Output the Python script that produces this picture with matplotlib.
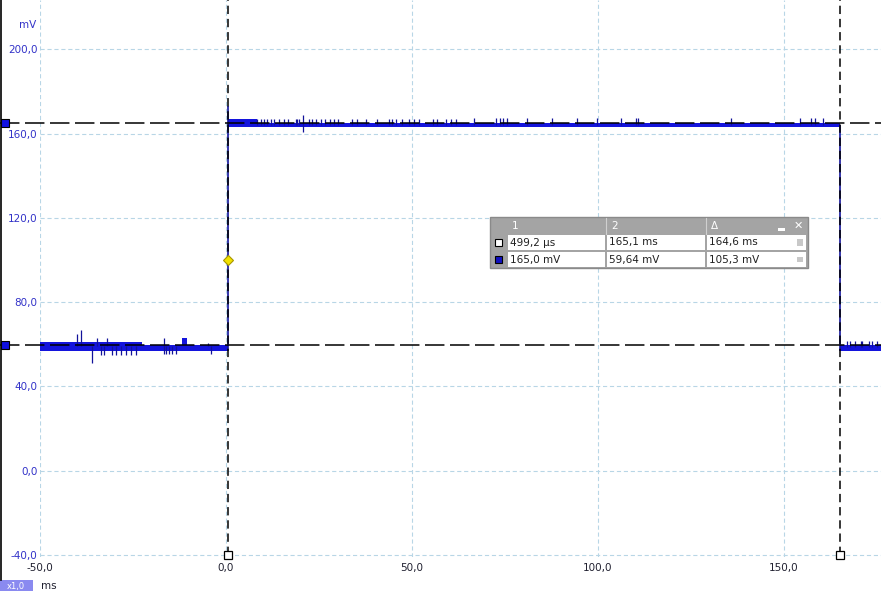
import matplotlib.pyplot as plt
import matplotlib.transforms as mtransforms
from matplotlib.patches import Rectangle

plt.rcParams['font.family'] = 'DejaVu Sans'
plt.rcParams['lines.scale_dashes'] = False

# trace envelope as steps (ms, mV): band between lo and hi on each segment
band_t = [-50.0, -22.5, -11.8, -10.4, 0.5, 8.4, 165.1, 176.1]
band_lo = [57.0, 57.0, 57.0, 57.0, 163.0, 163.0, 57.0]
band_hi = [61.2, 59.7, 63.0, 59.7, 166.8, 164.9, 59.7]

# edges of the pulse
edge_t = [0.5, 165.1]
edge_lo = [57.0, 57.0]
edge_hi = [173.1, 164.0]

# glitches on the low level before the pulse
low_up_t = [-40.0, -39.0, -34.8, -31.9, -16.7, -4.8]
low_up_top = [64.9, 66.8, 63.0, 63.0, 63.0, 60.8]
low_dn_t = [-36.0, -33.7, -32.8, -30.7, -29.7, -28.3, -27.0, -25.6, -24.3,
            -16.7, -16.2, -15.3, -14.4, -13.5, -4.1]
low_dn_bot = [51.3, 54.9, 54.9, 54.9, 54.9, 54.9, 54.9, 54.9, 54.9,
              55.2, 55.2, 55.2, 55.2, 55.2, 55.2]

# glitches on the high level
high_up_t = [8.4, 9.3, 10.2, 11.1, 12.0, 12.9, 14.2, 15.6, 16.7, 18.7, 19.2,
             19.6, 20.8, 22.3, 23.2, 24.3, 25.5, 26.6, 27.9, 29.0, 30.2, 34.0,
             35.3, 37.6, 40.5, 43.8, 44.7, 45.6, 47.4, 49.2, 50.5, 51.9, 55.7,
             56.8, 59.2, 60.6, 61.9, 66.7, 72.5, 73.7, 74.5, 75.6, 81.0, 87.7,
             94.4, 99.8, 106.3, 110.3, 110.8, 135.8, 154.2, 157.3, 158.3, 160.6]
high_up_top = [166.8] * 12 + [168.8] + [166.8] * 24 + [167.3] * 17
high_dn_t = [20.8]
high_dn_bot = [160.9]

# glitches after the pulse
tail_up_t = [167.0, 167.9, 169.0, 170.6, 171.1, 172.8, 173.7, 175.1]
tail_up_top = [61.5, 61.5, 61.5, 61.5, 61.5, 61.5, 61.5, 61.5]

# cursors and trigger
cursor_t = [0.4992, 165.1]
cursor_v = [165.0, 59.64]
trig_t = 0.5
trig_v = 100.0

x_ticks = [-50, 0, 50, 100, 150]
x_labels = ['-50,0', '0,0', '50,0', '100,0', '150,0']
y_ticks = [-40, 0, 40, 80, 120, 160, 200]
y_labels = ['-40,0', '0,0', '40,0', '80,0', '120,0', '160,0', '200,0']

tbl_head = ['1', '2', 'Δ']
tbl_time = ['499,2 μs', '165,1 ms', '164,6 ms']
tbl_volt = ['165,0 mV', '59,64 mV', '105,3 mV']

W, H = 881, 591
fig = plt.figure(figsize=(W / 100, H / 100), dpi=100)


def fx(px):
    return px / W


def fy(py):
    return 1 - py / H


ax = fig.add_axes([fx(40), fy(557), fx(881) - fx(40), fy(0) - fy(557)])
ax.set_xlim(-50, 176.1)
ax.set_ylim(-41, 223.4)
for s in ax.spines.values():
    s.set_visible(False)
ax.grid(True, color='#b8d6e6', lw=0.8, linestyle=(0, (3, 2)))
ax.set_axisbelow(True)
ax.set_xticks(x_ticks, x_labels)
ax.set_yticks(y_ticks, y_labels)
ax.tick_params(axis='both', length=0, labelsize=7.5)
ax.tick_params(axis='y', pad=1.8, labelcolor='#3232c8')
ax.tick_params(axis='x', pad=4.5, labelcolor='#202030')

blue = '#1414dc'
dark = '#12129a'
ax.fill_between(band_t, band_lo + band_lo[-1:], band_hi + band_hi[-1:],
                step='post', color=blue, lw=0, zorder=3)
ax.vlines(edge_t, edge_lo, edge_hi, color=dark, lw=1.2, zorder=4)
ax.vlines(low_up_t, 59.0, low_up_top, color=dark, lw=0.9, zorder=4)
ax.vlines(low_dn_t, low_dn_bot, 59.0, color=dark, lw=0.9, zorder=4)
ax.vlines(high_up_t, 164.0, high_up_top, color=dark, lw=0.9, zorder=4)
ax.vlines(high_dn_t, high_dn_bot, 164.0, color=dark, lw=0.9, zorder=4)
ax.vlines(tail_up_t, 58.5, tail_up_top, color=dark, lw=0.9, zorder=4)

# cursor lines
left = -40 / 841
for v in cursor_v:
    ax.axhline(v, xmin=left, xmax=1, color='black', lw=1.1,
               linestyle=(0, (14, 4)), clip_on=False, zorder=5)
for t in cursor_t:
    ax.axvline(t, ymin=1 / 264.4, ymax=1, color='black', lw=1.1,
               linestyle=(0, (6, 3.5)), zorder=5)

trans = mtransforms.blended_transform_factory(ax.transAxes, ax.transData)
ax.plot([-35 / 841] * 2, cursor_v, 's', ms=5.5, mfc='#1010e0', mec='black',
        mew=0.8, transform=trans, clip_on=False, zorder=6)
ax.plot(cursor_t, [-40, -40], 's', ms=6, mfc='white', mec='black', mew=0.9,
        clip_on=False, zorder=6)
ax.plot([trig_t], [trig_v], 'D', ms=5.5, mfc='#f2e200', mec='#a89600',
        mew=0.8, zorder=6)

# frame bits outside the plot
fig.add_artist(plt.Line2D([fx(0.5), fx(0.5)], [fy(0), fy(580)],
                          color='black', lw=1.2))
fig.text(fx(36), fy(25), 'mV', ha='right', va='center', fontsize=7.5,
         color='#3232c8')
fig.add_artist(Rectangle((fx(0), fy(591)), fx(33), fy(580) - fy(591),
                         transform=fig.transFigure, color='#8a8af0', lw=0))
fig.text(fx(16), fy(586), 'x1,0', ha='center', va='center', fontsize=6,
         color='white')
fig.text(fx(41), fy(586), 'ms', ha='left', va='center', fontsize=7.5,
         color='#202030')


def rect(x0, y0, x1, y1, fc, ec='none', lw=0.0):
    fig.add_artist(Rectangle((fx(x0), fy(y1)), fx(x1) - fx(x0),
                             fy(y0) - fy(y1), transform=fig.transFigure,
                             fc=fc, ec=ec, lw=lw, zorder=10))


# measurement table
col_x = [507, 606, 706, 807]
row_y = [217, 234, 251, 268]
rect(490, 217, 808, 268, '#a4a4a4', ec='#8a8a8a', lw=1.0)
for r in (1, 2):
    for c in range(3):
        rect(col_x[c] + 1, row_y[r] + 1, col_x[c + 1] - 1, row_y[r + 1] - 1,
             'white')
for c in (1, 2):
    fig.add_artist(plt.Line2D([fx(col_x[c])] * 2, [fy(218), fy(234)],
                              color='#d0d0d0', lw=0.8, zorder=11))
for c, lab in enumerate(tbl_head):
    fig.text(fx(col_x[c] + 5), fy(226), lab, ha='left', va='center',
             fontsize=7.5, color='white', zorder=12)
for r, row in ((1, tbl_time), (2, tbl_volt)):
    yc = (row_y[r] + row_y[r + 1]) / 2
    for c, lab in enumerate(row):
        fig.text(fx(col_x[c] + 3), fy(yc), lab, ha='left', va='center',
                 fontsize=7.5, color='#202020', zorder=12)
    rect(797, yc - 3, 803, yc + 3, '#c8c8c8')
rect(495, 239, 502, 246, 'white', ec='black', lw=0.8)
rect(495, 256, 502, 263, '#1010c0', ec='black', lw=0.8)
rect(778, 228, 785, 231, 'white')
fig.text(fx(798), fy(225.5), '✕', ha='center', va='center', fontsize=8,
         color='white', fontweight='bold', zorder=12)

fig.savefig('out.png', dpi=100)
